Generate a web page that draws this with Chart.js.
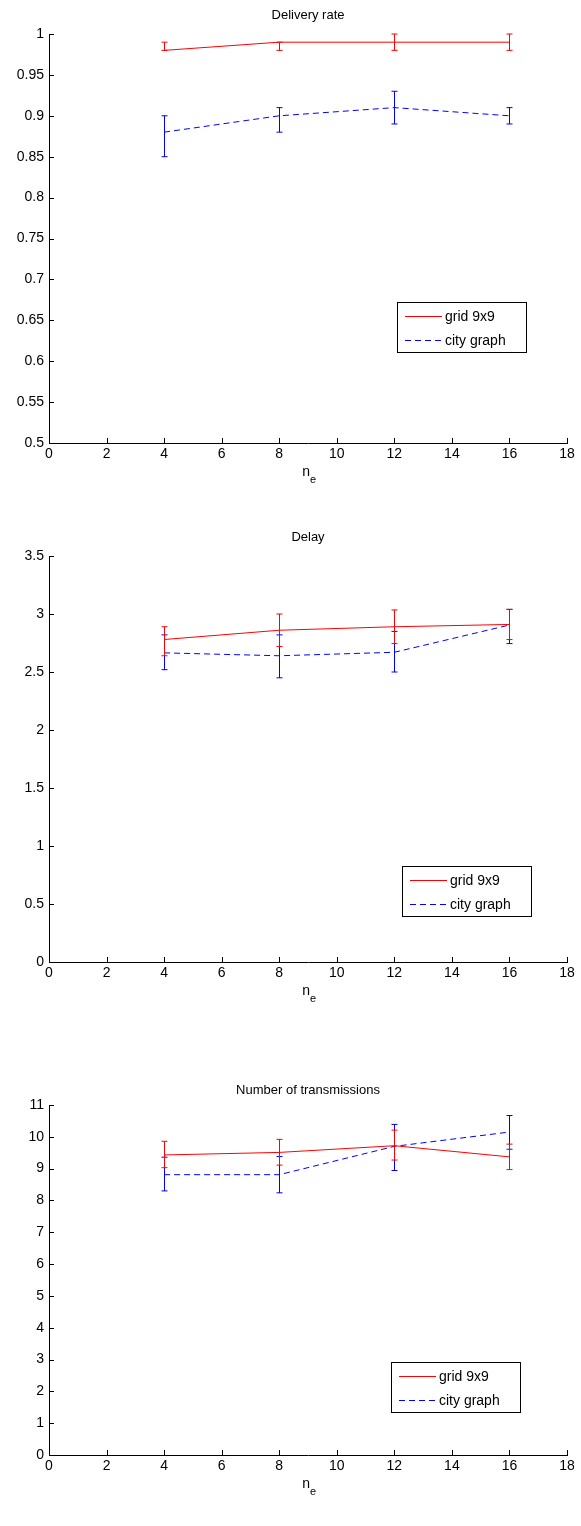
<!DOCTYPE html>
<html><head><meta charset="utf-8">
<script src="https://cdn.jsdelivr.net/npm/chart.js@4.4.0/dist/chart.umd.min.js"></script>
<style>
body{margin:0;background:#fff;width:581px;height:1526px;overflow:hidden;position:relative}
canvas{position:absolute;left:0}
</style></head><body>
<canvas id="c1" style="top:0px"></canvas>
<canvas id="c2" style="top:500px"></canvas>
<canvas id="c3" style="top:1010px"></canvas>
<script>
// ---- data ----
const ne = [4, 8, 12, 16];
const xTicks = [0, 2, 4, 6, 8, 10, 12, 14, 16, 18];
const seriesNames = ['grid 9x9', 'city graph'];

// Delivery rate
const deliveryTitle = 'Delivery rate';
const deliveryTicks = [0.5, 0.55, 0.6, 0.65, 0.7, 0.75, 0.8, 0.85, 0.9, 0.95, 1];
const deliveryGrid = [0.98, 0.99, 0.99, 0.99];
const deliveryGridLo = [0.98, 0.98, 0.98, 0.98];
const deliveryGridHi = [0.99, 0.99, 1.0, 1.0];
const deliveryCity = [0.88, 0.90, 0.91, 0.90];
const deliveryCityLo = [0.85, 0.88, 0.89, 0.89];
const deliveryCityHi = [0.90, 0.91, 0.93, 0.91];

// Delay
const delayTitle = 'Delay';
const delayTicks = [0, 0.5, 1, 1.5, 2, 2.5, 3, 3.5];
const delayGrid = [2.78, 2.86, 2.89, 2.91];
const delayGridLo = [2.64, 2.72, 2.745, 2.78];
const delayGridHi = [2.89, 3.0, 3.035, 3.04];
const delayCity = [2.665, 2.64, 2.67, 2.905];
const delayCityLo = [2.52, 2.45, 2.50, 2.745];
const delayCityHi = [2.82, 2.82, 2.85, 3.04];

// Number of transmissions
const transTitle = 'Number of transmissions';
const transTicks = [0, 1, 2, 3, 4, 5, 6, 7, 8, 9, 10, 11];
const transGrid = [9.43, 9.51, 9.72, 9.37];
const transGridLo = [9.03, 9.11, 9.27, 8.97];
const transGridHi = [9.86, 9.92, 10.21, 9.77];
const transCity = [8.81, 8.81, 9.70, 10.15];
const transCityLo = [8.30, 8.24, 8.94, 9.61];
const transCityHi = [9.36, 9.38, 10.39, 10.67];

// ---- drawing ----
const FONT = '"Liberation Sans", Arial, Helvetica, sans-serif';
const RED = '#ff0000', BLUE = '#0000ff';

const matlabPlugin = {
  id: 'matlab',
  afterDatasetDraw(chart, args) {
    const ds = chart.data.datasets[args.index];
    const xs = chart.scales.x, ys = chart.scales.y;
    const ctx = chart.ctx;
    ctx.save();
    ctx.strokeStyle = ds.borderColor; ctx.lineWidth = 1; ctx.setLineDash([]);
    ds.data.forEach((p, i) => {
      const px = Math.round(xs.getPixelForValue(p.x)) + 0.5;
      const yl = ys.getPixelForValue(ds.errLo[i]);
      const yh = ys.getPixelForValue(ds.errHi[i]);
      ctx.beginPath();
      ctx.moveTo(px, yl); ctx.lineTo(px, yh);
      ctx.moveTo(px - 3, yl); ctx.lineTo(px + 3, yl);
      ctx.moveTo(px - 3, yh); ctx.lineTo(px + 3, yh);
      ctx.stroke();
    });
    ctx.restore();
  },
  afterDraw(chart) {
    const o = chart.options.plugins.matlab;
    const ctx = chart.ctx, a = chart.chartArea;
    const xs = chart.scales.x, ys = chart.scales.y;
    ctx.save();
    ctx.strokeStyle = '#000'; ctx.lineWidth = 1;
    ctx.beginPath();
    xs.ticks.forEach(t => {
      const px = Math.round(xs.getPixelForValue(t.value)) + 0.5;
      ctx.moveTo(px, a.bottom); ctx.lineTo(px, a.bottom - 5);
    });
    ys.ticks.forEach(t => {
      const py = Math.round(ys.getPixelForValue(t.value)) + 0.5;
      ctx.moveTo(a.left, py); ctx.lineTo(a.left + 5, py);
    });
    ctx.stroke();
    // title
    ctx.fillStyle = '#000';
    ctx.font = '13px ' + FONT;
    ctx.textAlign = 'center'; ctx.textBaseline = 'alphabetic';
    ctx.fillText(o.title, (a.left + a.right) / 2, a.top - o.titleGap);
    // x label n_e
    const cx = (a.left + a.right) / 2;
    ctx.font = '14px ' + FONT;
    ctx.textAlign = 'right';
    ctx.fillText('n', cx + 2, a.bottom + 33);
    ctx.font = '11px ' + FONT;
    ctx.textAlign = 'left';
    ctx.fillText('e', cx + 2, a.bottom + 40);
    // legend
    const L = o.legend;
    ctx.fillStyle = '#fff';
    ctx.fillRect(L.x, L.y, L.w, L.h);
    ctx.strokeStyle = '#000';
    ctx.strokeRect(L.x + 0.5, L.y + 0.5, L.w, L.h);
    chart.data.datasets.forEach((ds, i) => {
      const ry = Math.round(L.y + 14 + i * 24) + 0.5;
      ctx.strokeStyle = ds.borderColor;
      ctx.setLineDash(ds.borderDash || []);
      ctx.beginPath(); ctx.moveTo(L.x + 8, ry); ctx.lineTo(L.x + 45, ry); ctx.stroke();
      ctx.setLineDash([]);
      ctx.fillStyle = '#000';
      ctx.font = '14px ' + FONT;
      ctx.textAlign = 'left'; ctx.textBaseline = 'middle';
      ctx.fillText(ds.label, L.x + 48, ry + 1);
    });
    ctx.restore();
  }
};

function makeChart(id, H, top, bottom, title, titleGap, yTicks, g, gLo, gHi, c, cLo, cHi, legend) {
  const cv = document.getElementById(id);
  cv.width = 581; cv.height = H;
  const xAxisH = 26;
  new Chart(cv, {
    type: 'line',
    data: {
      datasets: [
        { label: seriesNames[0], data: ne.map((x, i) => ({ x, y: g[i] })), errLo: gLo, errHi: gHi,
          borderColor: RED, borderWidth: 1, pointRadius: 0, fill: false, tension: 0 },
        { label: seriesNames[1], data: ne.map((x, i) => ({ x, y: c[i] })), errLo: cLo, errHi: cHi,
          borderColor: BLUE, borderWidth: 1, borderDash: [6, 4], pointRadius: 0, fill: false, tension: 0 }
      ]
    },
    options: {
      responsive: false, animation: false, devicePixelRatio: 1,
      layout: { padding: { top: top, left: 0, right: 14, bottom: H - bottom - xAxisH } },
      plugins: { legend: { display: false }, tooltip: { enabled: false },
        matlab: { title: title, titleGap: titleGap, legend: legend } },
      scales: {
        x: {
          type: 'linear', min: xTicks[0], max: xTicks[xTicks.length - 1],
          afterBuildTicks: s => { s.ticks = xTicks.map(v => ({ value: v })); },
          afterFit: s => { s.height = xAxisH; },
          grid: { display: false, drawTicks: false },
          border: { display: true, color: '#000', width: 1 },
          ticks: { color: '#000', font: { family: FONT, size: 14 }, padding: 3, maxRotation: 0, autoSkip: false }
        },
        y: {
          type: 'linear', min: yTicks[0], max: yTicks[yTicks.length - 1],
          afterBuildTicks: s => { s.ticks = yTicks.map(v => ({ value: v })); },
          afterFit: s => { s.width = 49; },
          grid: { display: false, drawTicks: false },
          border: { display: true, color: '#000', width: 1 },
          ticks: { color: '#000', font: { family: FONT, size: 14 }, padding: 5, autoSkip: false,
                   callback: v => String(v) }
        }
      }
    },
    plugins: [matlabPlugin]
  });
}

makeChart('c1', 500, 34, 443, deliveryTitle, 15, deliveryTicks,
  deliveryGrid, deliveryGridLo, deliveryGridHi, deliveryCity, deliveryCityLo, deliveryCityHi,
  { x: 397, y: 302, w: 129, h: 50 });
makeChart('c2', 510, 56, 462, delayTitle, 15, delayTicks,
  delayGrid, delayGridLo, delayGridHi, delayCity, delayCityLo, delayCityHi,
  { x: 402, y: 366, w: 129, h: 50 });
makeChart('c3', 516, 95, 445, transTitle, 11, transTicks,
  transGrid, transGridLo, transGridHi, transCity, transCityLo, transCityHi,
  { x: 391, y: 352, w: 129, h: 50 });
</script>
</body></html>
